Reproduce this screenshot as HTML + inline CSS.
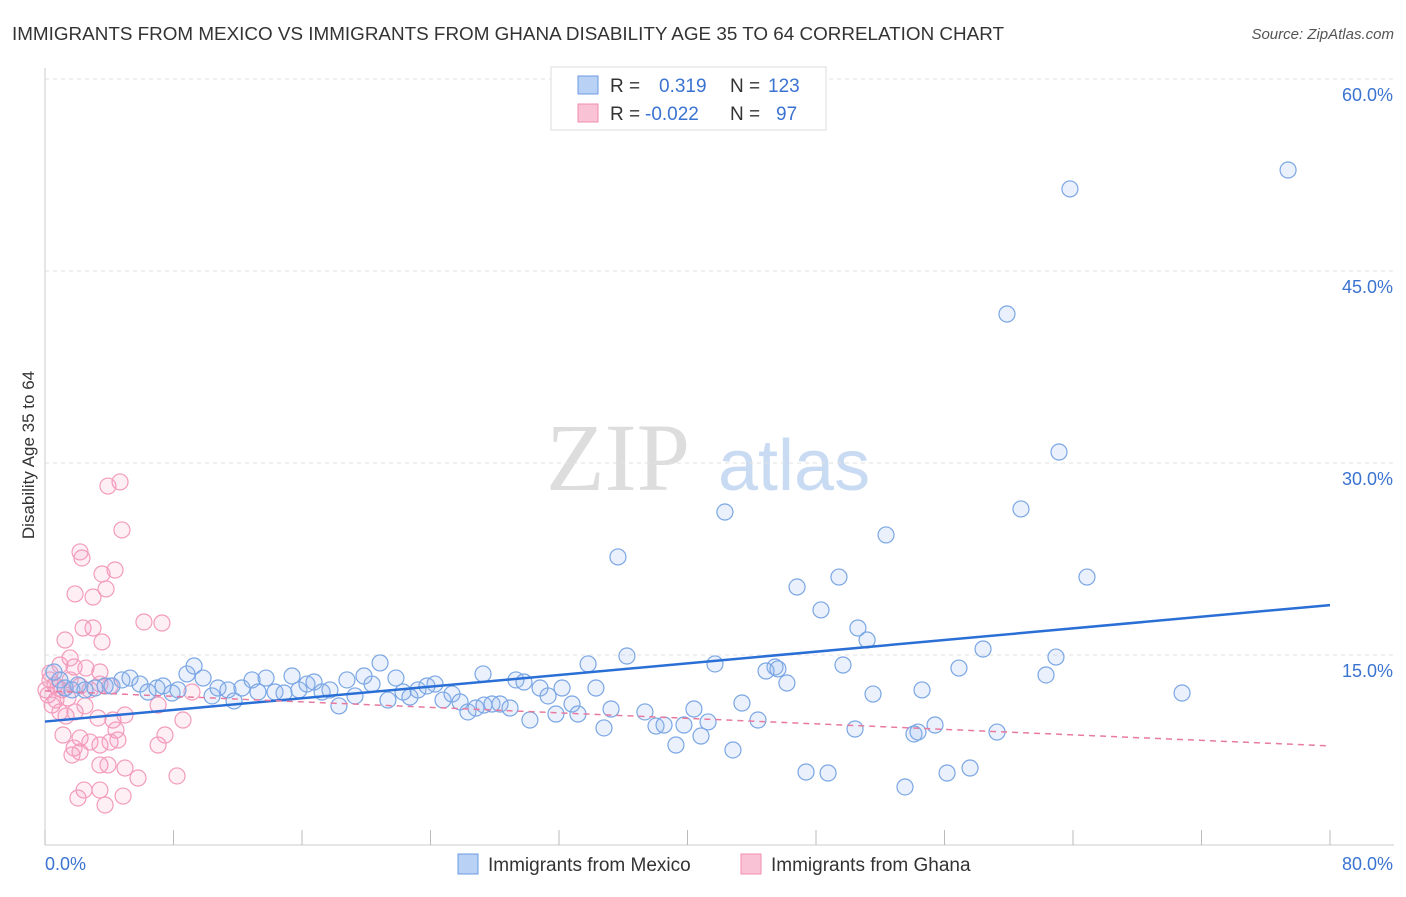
<!DOCTYPE html>
<html><head><meta charset="utf-8">
<style>
body{margin:0;background:#fff;font-family:"Liberation Sans",sans-serif;}
</style></head>
<body>
<svg width="1406" height="892" xmlns="http://www.w3.org/2000/svg" font-family="Liberation Sans, sans-serif">
<text x="12" y="40" font-size="18" fill="#333" textLength="992" lengthAdjust="spacingAndGlyphs">IMMIGRANTS FROM MEXICO VS IMMIGRANTS FROM GHANA DISABILITY AGE 35 TO 64 CORRELATION CHART</text>
<text x="1394" y="39" font-size="15" fill="#555" font-style="italic" text-anchor="end">Source: ZipAtlas.com</text>
<text x="690" y="490" font-size="96" fill="#ddd" text-anchor="end" font-family="Liberation Serif, serif">ZIP</text>
<text x="718" y="490" font-size="72" fill="#c9dbf3">atlas</text>
<g id="grid"></g>
<g id="axes"></g>
<g id="marks"></g>
<text x="34" y="455" font-size="17" fill="#333" transform="rotate(-90 34 455)" text-anchor="middle">Disability Age 35 to 64</text>
<g>
<rect x="551" y="67" width="275" height="63" fill="#fff" stroke="#ddd"/>
<rect x="578" y="76" width="20" height="18" fill="#b9d1f5" stroke="#6a9be0"/>
<rect x="578" y="104" width="20" height="18" fill="#f9c3d5" stroke="#f08cb0"/>
<text x="610" y="92" font-size="19" fill="#333">R =</text>
<text x="659" y="92" font-size="19" fill="#3b73d1">0.319</text>
<text x="730" y="92" font-size="19" fill="#333">N =</text>
<text x="768" y="92" font-size="19" fill="#3b73d1">123</text>
<text x="610" y="120" font-size="19" fill="#333">R =</text>
<text x="645" y="120" font-size="19" fill="#3b73d1">-0.022</text>
<text x="730" y="120" font-size="19" fill="#333">N =</text>
<text x="776" y="120" font-size="19" fill="#3b73d1">97</text>
</g>
<g>
<rect x="458" y="854" width="20" height="20" fill="#b9d1f5" stroke="#6a9be0"/>
<text x="488" y="871" font-size="19" fill="#333">Immigrants from Mexico</text>
<rect x="741" y="854" width="20" height="20" fill="#f9c3d5" stroke="#f08cb0"/>
<text x="771" y="871" font-size="19" fill="#333">Immigrants from Ghana</text>
</g>
</svg>
<script>
const xTicks=[0,8,16,24,32,40,48,56,64,72,80];
const yTicks=[15,30,45,60];
const yTickLabels=["15.0%","30.0%","45.0%","60.0%"];
const xEndLabels=["0.0%","80.0%"];
const bluePx=[[1288,170],[1070,189],[1007,314],[1059,452],[1021,509],[725,512],[886,535],[618,557],[1087,577],[839,577],[797,587],[821,610],[858,628],[867,640],[983,649],[1056,657],[627,656],[715,664],[588,664],[843,665],[959,668],[775,667],[778,669],[766,671],[787,683],[1046,675],[1182,693],[922,690],[873,694],[742,703],[694,709],[611,709],[645,712],[758,720],[708,722],[684,725],[656,726],[664,725],[935,725],[855,729],[914,734],[918,732],[997,732],[701,736],[676,745],[604,728],[733,750],[806,772],[828,773],[947,773],[970,768],[905,787],[54,672],[60,680],[65,688],[72,690],[78,685],[85,690],[95,688],[105,686],[112,686],[122,680],[130,678],[140,684],[148,692],[157,688],[163,686],[172,693],[178,690],[187,674],[194,666],[203,678],[212,696],[218,688],[228,690],[234,701],[242,688],[252,680],[258,692],[266,678],[275,692],[284,693],[292,676],[299,690],[307,684],[314,682],[322,692],[330,690],[339,706],[347,680],[355,696],[364,676],[372,684],[380,663],[388,700],[396,678],[403,692],[410,697],[418,690],[427,686],[435,684],[443,700],[452,694],[460,702],[468,712],[476,708],[484,705],[492,704],[500,704],[510,708],[516,680],[524,682],[530,720],[540,688],[548,696],[556,714],[562,688],[572,704],[578,714],[596,688],[483,674]];
const pinkPx=[[120,482],[108,486],[122,530],[80,552],[82,558],[115,570],[102,574],[106,589],[75,594],[93,597],[144,622],[162,623],[83,628],[93,628],[65,640],[102,642],[70,658],[60,665],[74,667],[86,668],[100,672],[50,680],[55,685],[62,690],[70,680],[80,686],[90,690],[100,684],[110,686],[48,695],[52,705],[60,712],[66,716],[56,700],[75,712],[85,706],[98,718],[113,720],[125,715],[116,730],[158,705],[183,720],[192,692],[80,738],[90,742],[100,745],[74,748],[110,742],[118,740],[158,745],[165,735],[63,735],[72,755],[80,752],[100,765],[108,765],[125,768],[138,778],[177,776],[84,790],[100,790],[78,798],[105,805],[123,796],[58,688],[68,698],[46,690],[50,673]];
const mexicoX=bluePx.map(p=>+((p[0]-45)/16.0625).toFixed(2));
const mexicoY=bluePx.map(p=>+((847-p[1])/12.8).toFixed(2));
const ghanaX=pinkPx.map(p=>+((p[0]-45)/16.0625).toFixed(2));
const ghanaY=pinkPx.map(p=>+((847-p[1])/12.8).toFixed(2));
const mexicoTrend=[9.8,18.9];
const ghanaTrend=[12.2,7.9];

const X=v=>45+v*1285/80, Y=v=>847-v*12.8;
const NS="http://www.w3.org/2000/svg";
function mk(tag,attrs,parent){const e=document.createElementNS(NS,tag);for(const k in attrs)e.setAttribute(k,attrs[k]);parent.appendChild(e);return e;}
const grid=document.getElementById('grid'),axes=document.getElementById('axes'),marks=document.getElementById('marks');
yTicks.forEach((t,i)=>{
 const l=mk('line',{x1:45,x2:1394,y1:Y(t),y2:Y(t),stroke:'#e2e2e2','stroke-dasharray':'4,4'},grid);
 
 const tx=mk('text',{x:1393,y:Y(t)+22,'font-size':18,fill:'#3b73d1','text-anchor':'end'},axes);
 tx.textContent=yTickLabels[i];
 
});
const ax=mk('line',{x1:45,x2:1394,y1:845,y2:845,stroke:'#ccc'},axes);

const ay=mk('line',{x1:45,x2:45,y1:68,y2:845,stroke:'#ccc'},axes);

xTicks.forEach(t=>{const l=mk('line',{x1:X(t),x2:X(t),y1:830,y2:845,stroke:'#bbb'},axes);
 });
const xl0=mk('text',{x:45,y:870,'font-size':18,fill:'#3b73d1'},axes);xl0.textContent=xEndLabels[0];

const xl1=mk('text',{x:1393,y:870,'font-size':18,fill:'#3b73d1','text-anchor':'end'},axes);xl1.textContent=xEndLabels[1];

ghanaX.forEach((x,i)=>{const c=mk('circle',{cx:X(x),cy:Y(ghanaY[i]),r:8,fill:'rgba(245,150,185,0.15)',stroke:'#f39bbb','stroke-width':1.2},marks);
 });
mexicoX.forEach((x,i)=>{const c=mk('circle',{cx:X(x),cy:Y(mexicoY[i]),r:8,fill:'rgba(150,185,240,0.2)',stroke:'#7aa6e4','stroke-width':1.2},marks);
 });
const t1=mk('line',{x1:X(0),x2:X(80),y1:Y(mexicoTrend[0]),y2:Y(mexicoTrend[1]),stroke:'#2a6fd6','stroke-width':2.5},marks);

const t2=mk('line',{x1:X(0),x2:X(80),y1:Y(ghanaTrend[0]),y2:Y(ghanaTrend[1]),stroke:'#e87aa0','stroke-width':1.5,'stroke-dasharray':'6,5'},marks);

</script>
</body></html>
